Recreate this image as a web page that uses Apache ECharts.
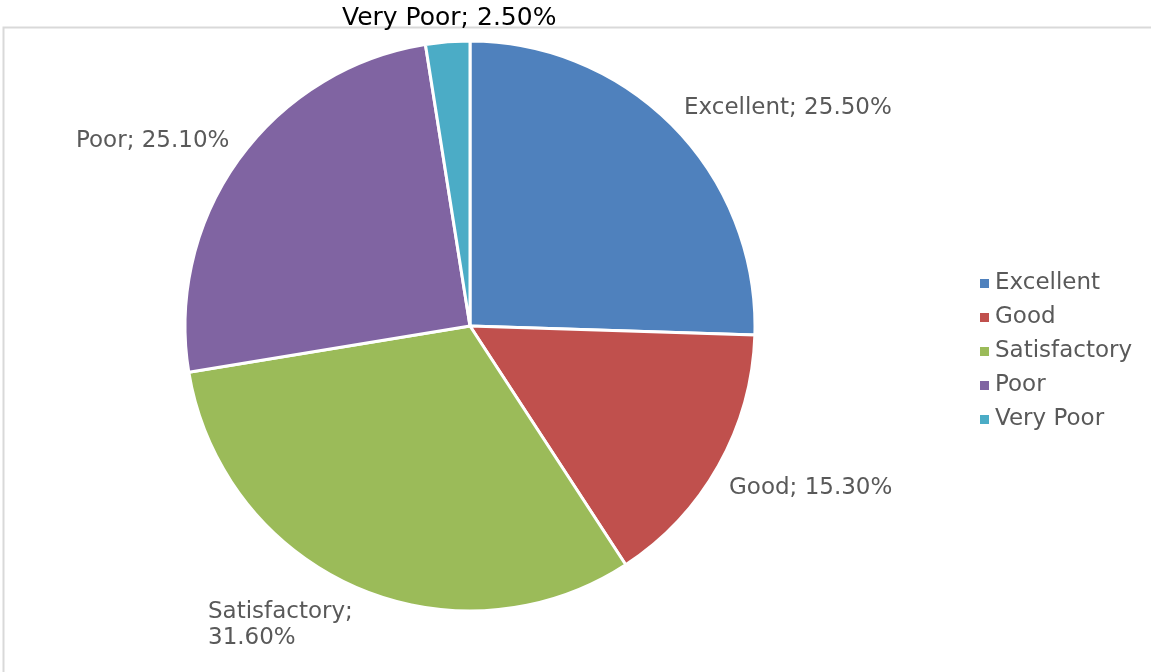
<!DOCTYPE html>
<html>
<head>
<meta charset="utf-8">
<script src="https://cdn.jsdelivr.net/npm/echarts@6/dist/echarts.min.js"></script>
<style>
  html, body { margin: 0; padding: 0; background: #fff; }
  #chart { width: 1151px; height: 672px; }
</style>
</head>
<body>
<div id="chart"></div>
<script>
const categories = ["Excellent", "Good", "Satisfactory", "Poor", "Very Poor"];
const shares = [25.5, 15.3, 31.6, 25.1, 2.5];
const colors = ["#4F81BD", "#C0504D", "#9BBB59", "#8064A2", "#4BACC6"];

// where each data label sits (left edge, vertical middle)
const labelSpots = [
    [684, 108],
    [729, 488],
    [208, 625],
    [76, 141],
    [342, 18]
];

const chart = echarts.init(document.getElementById("chart"));

const data = categories.map((name, i) => ({
    name: name,
    value: shares[i],
    itemStyle: { color: colors[i] },
    label: i === 4 ? { color: "#000", fontSize: 25 } : {}
}));

const option = {
    backgroundColor: "#fff",
    animation: false,
    textStyle: { fontFamily: "DejaVu Sans" },
    graphic: [
        {
            type: "rect",
            shape: { x: 3.5, y: 27.5, width: 1160, height: 700 },
            style: { fill: "none", stroke: "#d9d9d9", lineWidth: 2 },
            z: -1
        }
    ],
    legend: {
        orient: "vertical",
        left: 973,
        top: 267,
        itemWidth: 11,
        itemHeight: 11,
        itemGap: 11,
        icon: "rect",
        textStyle: { fontSize: 23, color: "#595959", fontFamily: "DejaVu Sans" },
        data: categories
    },
    series: [
        {
            type: "pie",
            center: [470, 326],
            radius: 285,
            startAngle: 90,
            clockwise: true,
            itemStyle: { borderColor: "#fff", borderWidth: 3 },
            labelLine: { show: false },
            label: {
                show: true,
                fontSize: 23,
                color: "#595959",
                fontFamily: "DejaVu Sans",
                lineHeight: 26,
                formatter: function (p) {
                    const sep = p.name === "Satisfactory" ? ";\n" : "; ";
                    return p.name + sep + Number(p.value).toFixed(2) + "%";
                }
            },
            labelLayout: function (p) {
                const s = labelSpots[p.dataIndex];
                return { x: s[0], y: s[1], align: "left", verticalAlign: "middle" };
            },
            data: data
        }
    ]
};

chart.setOption(option);
window.addEventListener("resize", () => chart.resize());
</script>
</body>
</html>
